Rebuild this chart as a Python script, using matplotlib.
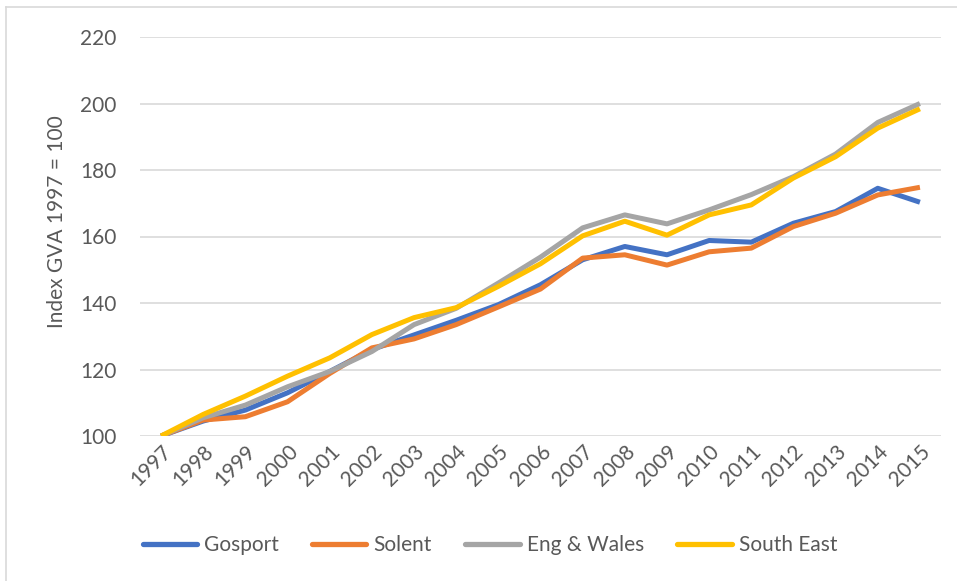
import numpy as np
import matplotlib
matplotlib.use("Agg")
import matplotlib.pyplot as plt
from matplotlib.lines import Line2D

plt.rcParams['font.family'] = ['Lato', 'DejaVu Sans']

years = [str(y) for y in range(1997, 2016)]
gosport = [100, 104.5, 107.8, 113, 119.4, 126, 130.4, 134.8, 139.5, 145.5, 153,
           157, 154.5, 158.8, 158.3, 164, 167.5, 174.5, 170.3]
solent = [100, 104.8, 105.8, 110.3, 118.8, 126.5, 129.2, 133.5, 138.8, 144.2, 153.5,
          154.5, 151.4, 155.4, 156.5, 163, 167, 172.5, 174.8]
eng_wales = [100, 105.5, 109.3, 114.8, 119.4, 125.4, 133.5, 138.4, 146, 153.8, 162.6,
             166.5, 163.8, 168, 172.6, 178, 184.8, 194.3, 200]
south_east = [100, 106.5, 112, 118, 123.5, 130.5, 135.6, 138.6, 145, 151.8, 160.2,
              164.6, 160.4, 166.5, 169.5, 177.6, 184, 192.6, 198.4]

series = [("Gosport", gosport, "#4472C4"),
          ("Solent", solent, "#ED7D31"),
          ("Eng & Wales", eng_wales, "#A5A5A5"),
          ("South East", south_east, "#FFC000")]

fs = 15
fig = plt.figure(figsize=(9.57, 5.81), dpi=100)
ax = fig.add_axes([140 / 957, 1 - 436 / 581, 801 / 957, 399 / 581])

x = np.arange(len(years))
for name, vals, col in series:
    ax.plot(x, vals, color=col, lw=3.6, label=name, solid_capstyle='butt')

ax.set_xlim(-0.5, len(years) - 0.5)
ax.set_ylim(100, 220)
ax.set_yticks(np.arange(100, 221, 20))
ax.set_xticks(x)
ax.set_xticklabels(years, rotation=45, ha='right', rotation_mode='anchor')
ax.grid(axis='y', color='#D9D9D9', lw=1.2)
ax.set_axisbelow(True)
for s in ax.spines.values():
    s.set_visible(False)
ax.tick_params(axis='both', length=0, labelsize=fs, colors='#595959')
ax.tick_params(axis='y', pad=17)
ax.tick_params(axis='x', pad=4)
ax.set_ylabel("Index GVA 1997 = 100", fontsize=fs, color='#595959', va='center')
ax.yaxis.set_label_coords(-0.104, 0.538)

handles = [Line2D([], [], color=c, lw=3.8, solid_capstyle='round') for _, _, c in series]
fig.legend(handles, [n for n, _, _ in series], loc='center', bbox_to_anchor=(0.512, 1 - 545 / 581),
           ncol=4, frameon=False, fontsize=fs, handlelength=2.6, handletextpad=0.35,
           columnspacing=1.6, labelcolor='#595959')

# chart area border (top and left edges visible)
fig.add_artist(Line2D([6 / 957, 6 / 957], [0, 1 - 7 / 581], transform=fig.transFigure,
                      color='#D9D9D9', lw=1.2))
fig.add_artist(Line2D([6 / 957, 1], [1 - 7 / 581, 1 - 7 / 581], transform=fig.transFigure,
                      color='#D9D9D9', lw=1.2))

fig.savefig("out.png", dpi=100)
